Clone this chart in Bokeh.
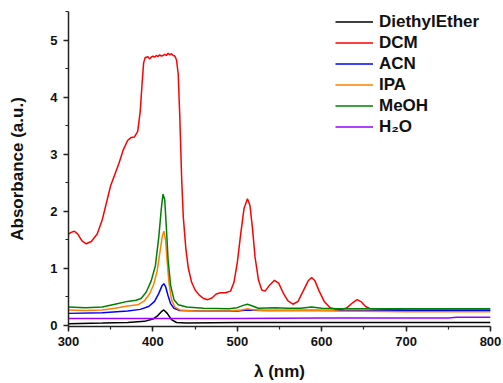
from bokeh.plotting import figure
from bokeh.models import Range1d, SingleIntervalTicker, Legend, LegendItem
from bokeh.embed import file_html
from bokeh.resources import INLINE

# Absorption spectra of the porphyrin in different solvents
ether_wl = [300, 340, 370, 390, 400, 405, 410, 413, 417, 422, 428, 440, 500, 600, 700, 800]
ether_abs = [0.03, 0.04, 0.05, 0.07, 0.11, 0.16, 0.24, 0.27, 0.21, 0.10, 0.05, 0.04, 0.05, 0.05, 0.05, 0.05]

dcm_wl = [300, 303, 307, 311, 316, 321, 327, 334, 340, 345, 350, 355, 360, 365, 370, 374, 378,
          382, 385, 387, 389, 391,
          392, 394, 396, 398, 400, 402, 404, 406, 408, 410, 412, 414, 416, 418, 420, 422, 424, 426,
          428, 430, 432, 434, 436, 439, 442, 446, 450, 455, 460, 465, 470, 475, 480, 486, 492, 496,
          500, 504, 508, 512, 515, 518, 521, 525, 529, 533, 538, 544, 549, 555, 560, 566, 572, 578,
          584, 588, 592, 597, 603, 610, 617, 624, 630, 637, 642, 647, 652, 658, 700, 800]
dcm_abs = [1.60, 1.63, 1.65, 1.60, 1.48, 1.43, 1.47, 1.60, 1.85, 2.15, 2.45, 2.65, 2.85, 3.08, 3.24, 3.29, 3.30,
           3.40, 3.75, 4.20, 4.60, 4.70,
           4.69, 4.71, 4.67, 4.70, 4.72, 4.70, 4.73, 4.71, 4.74, 4.72, 4.73, 4.75, 4.73, 4.77, 4.74, 4.76, 4.73, 4.72,
           4.65, 4.40, 3.60, 2.60, 1.90, 1.35, 1.00, 0.75, 0.62, 0.53, 0.47, 0.45, 0.48, 0.55, 0.57, 0.57, 0.60, 0.75,
           1.10, 1.60, 2.05, 2.22, 2.10, 1.70, 1.20, 0.80, 0.62, 0.60, 0.70, 0.79, 0.74, 0.55, 0.43, 0.37, 0.42, 0.60,
           0.78, 0.84, 0.78, 0.60, 0.42, 0.31, 0.28, 0.28, 0.31, 0.40, 0.45, 0.41, 0.33, 0.29, 0.27, 0.27]

acn_wl = [300, 340, 370, 385, 395, 402, 407, 411, 413, 415, 418, 421, 425, 432, 460, 500, 512, 530, 600, 700, 800]
acn_abs = [0.21, 0.22, 0.25, 0.28, 0.33, 0.42, 0.56, 0.70, 0.73, 0.68, 0.52, 0.38, 0.30, 0.26, 0.25, 0.25, 0.27, 0.26, 0.26, 0.26, 0.26]

ipa_wl = [300, 320, 340, 355, 370, 382, 390, 396, 401, 405, 408, 411, 413, 415, 417, 419, 422, 426, 432,
          450, 490, 505, 512, 520, 540, 590, 620, 700, 800]
ipa_abs = [0.27, 0.26, 0.27, 0.30, 0.34, 0.36, 0.43, 0.55, 0.72, 0.95, 1.25, 1.55, 1.65, 1.50, 1.10, 0.75, 0.45, 0.32, 0.27,
           0.25, 0.25, 0.27, 0.29, 0.27, 0.26, 0.27, 0.25, 0.24, 0.24]

meoh_wl = [300, 320, 340, 355, 370, 380, 386, 392, 398, 403, 407, 410, 412, 414, 416, 418, 421, 425, 430,
           440, 460, 490, 500, 507, 512, 518, 525, 545, 560, 575, 588, 600, 620, 700, 800]
meoh_abs = [0.32, 0.31, 0.32, 0.37, 0.42, 0.44, 0.47, 0.58, 0.78, 1.05, 1.55, 2.05, 2.30, 2.20, 1.70, 1.15, 0.70, 0.45, 0.36,
            0.32, 0.30, 0.29, 0.31, 0.35, 0.37, 0.34, 0.30, 0.31, 0.30, 0.30, 0.32, 0.30, 0.29, 0.29, 0.29]

water_wl = [300, 400, 500, 600, 700, 750, 760, 800]
water_abs = [0.12, 0.12, 0.12, 0.13, 0.13, 0.13, 0.14, 0.14]

series = [
    ("DiethylEther", ether_wl, ether_abs, "#000000"),
    ("DCM", dcm_wl, dcm_abs, "#ff0000"),
    ("ACN", acn_wl, acn_abs, "#0000ff"),
    ("IPA", ipa_wl, ipa_abs, "#ff8000"),
    ("MeOH", meoh_wl, meoh_abs, "#008000"),
    ("H\u2082O", water_wl, water_abs, "#9900ff"),
]

FONT = "Liberation Sans"

p = figure(width=503, height=383, output_backend="svg", toolbar_location=None,
           x_range=Range1d(300, 800), y_range=Range1d(-0.02, 5.5),
           min_border_left=68, min_border_right=13, min_border_top=11, min_border_bottom=57)
p.outline_line_color = None
p.xgrid.visible = False
p.ygrid.visible = False
p.background_fill_color = "white"
p.border_fill_color = "white"

items = []
for name, wl, ab, color in series:
    r = p.line(wl, ab, line_color=color, line_width=1.5)
    items.append(LegendItem(label=name, renderers=[r]))

p.xaxis.ticker = SingleIntervalTicker(interval=100, num_minor_ticks=2)
p.yaxis.ticker = SingleIntervalTicker(interval=1, num_minor_ticks=2)
p.xaxis.axis_label = "\u03bb (nm)"
p.yaxis.axis_label = "Absorbance (a.u.)"

for ax in (p.xaxis, p.yaxis):
    ax.axis_line_width = 1.5
    ax.axis_line_color = "#222222"
    ax.major_tick_line_width = 1.5
    ax.major_tick_line_color = "#222222"
    ax.minor_tick_line_width = 1.2
    ax.minor_tick_line_color = "#222222"
    ax.major_tick_in = 0
    ax.major_tick_out = 5
    ax.minor_tick_in = 0
    ax.minor_tick_out = 3
    ax.major_label_text_font = FONT
    ax.major_label_text_font_style = "bold"
    ax.major_label_text_font_size = "13px"
    ax.major_label_text_color = "#111111"
    ax.axis_label_text_font = FONT
    ax.axis_label_text_font_style = "bold"
    ax.axis_label_text_font_size = "17px"
    ax.axis_label_text_color = "#111111"
p.xaxis.major_label_standoff = 5
p.yaxis.major_label_standoff = 6
p.xaxis.axis_label_standoff = 13
p.yaxis.axis_label_standoff = 20

legend = Legend(items=items, location=(267, 189))
legend.border_line_color = None
legend.background_fill_alpha = 0
legend.label_text_font = FONT
legend.label_text_font_style = "bold"
legend.label_text_font_size = "17px"
legend.label_text_color = "#111111"
legend.glyph_width = 38
legend.glyph_height = 21
legend.label_height = 21
legend.label_standoff = 6
legend.spacing = 0
legend.padding = 0
legend.margin = 0
p.add_layout(legend)

open("out.html", "w").write(file_html(p, INLINE))
